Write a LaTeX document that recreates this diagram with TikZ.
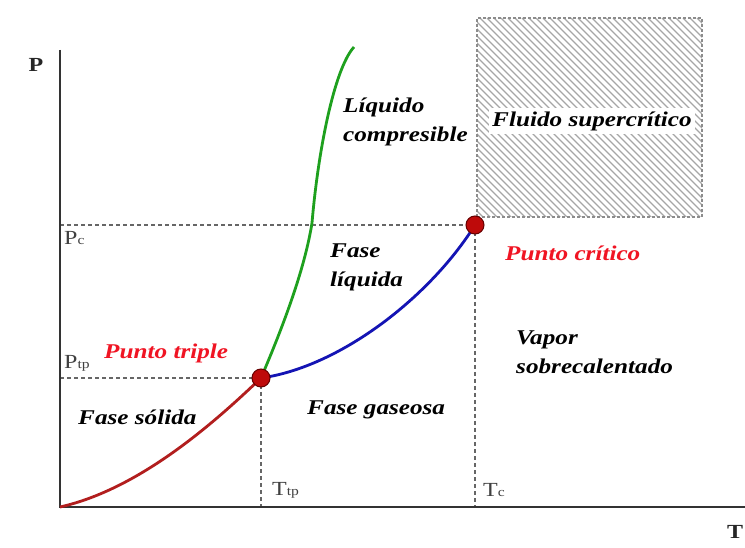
\documentclass[tikz,border=0pt]{standalone}
\usepackage{fontspec}
\setmainfont{Liberation Serif}[FakeStretch=1.2]
\definecolor{dotred}{RGB}{190,10,10}
\definecolor{solidred}{RGB}{178,30,30}
\definecolor{liqgreen}{RGB}{30,160,30}
\definecolor{vapblue}{RGB}{20,20,180}
\definecolor{ptred}{RGB}{240,20,35}
\newcommand{\sub}[1]{{\fontsize{13}{13}\selectfont #1}}
\begin{document}
\begin{tikzpicture}[
	x=1pt, y=1pt,
	axis/.style={ black!80, line width=2.6pt },
	guide/.style={ black!60, line width=1.3pt, dash pattern=on 4pt off 3pt },
	curve/.style={ line width=2.8pt },
	hatch/.style={ black!35, line width=1.2pt },
	dot/.style={ circle, draw=black!60!red, line width=1pt, fill=dotred, inner sep=0pt, minimum size=18pt },
	phase/.style={ font=\fontsize{21}{29}\selectfont\bfseries\itshape, inner sep=1pt, align=left },
	point/.style={ phase, text=ptred },
	tick/.style={ font=\fontsize{20}{20}\selectfont, text=black!75, inner sep=1pt }
]
\useasboundingbox[fill=white] (0,0) rectangle (745,547);

% axes
\coordinate (O) at (60,40);
\coordinate (ytop) at (60,497);
\coordinate (xend) at (745,40);
\coordinate (tp) at (261,169);
\coordinate (cp) at (475,322);

% supercritical region
\begin{scope}
\clip (477,330) rectangle (702,529);
\foreach \a in {270,277,...,708} {
	\draw[hatch] (\a,529) -- ++(205,-205);
}
\end{scope}
\draw[black!45, line width=1.2pt, dash pattern=on 3pt off 2pt] (477,330) rectangle (702,529);

\draw[guide] (O |- tp) to (tp);
\draw[guide] (O |- cp) to (cp);
\draw[guide] (tp) to (tp |- O);
\draw[guide] (cp) to (cp |- O);
\draw[axis] (ytop) to (O) to (xend);

% coexistence curves
\draw[curve, solidred] (O) .. controls (140,58) and (215,125) .. (tp);
\draw[curve, liqgreen] (tp) .. controls (285,225) and (305,280) .. (312,324)
	.. controls (318,395) and (334,478) .. (354,500);
\draw[curve, vapblue] (tp) .. controls (340,180) and (430,250) .. (cp);

\node[dot] (tpdot) at (tp) {};
\node[dot] (cpdot) at (cp) {};

% labels
\node[font=\fontsize{20}{20}\selectfont\bfseries, text=black!85] (plab) at (36,482) {P};
\node[font=\fontsize{20}{20}\selectfont\bfseries, text=black!85] (tlab) at (735,15) {T};
\node[tick, anchor=west] (pc) at (63,309) {P\sub{c}};
\node[tick, anchor=west] (ptp) at (63,184) {P\sub{tp}};
\node[tick, anchor=west] (ttp) at (271,57) {T\sub{tp}};
\node[tick, anchor=west] (tc) at (482,57) {T\sub{c}};

\node[phase, fill=white, inner sep=3pt] (fluid) at (592,426) {Fluido supercrítico};
\node[phase, anchor=west] (comp) at (342,425) {Líquido\\compresible};
\node[phase, anchor=west] (liq) at (329,280) {Fase\\líquida};
\node[phase, anchor=west] (vap) at (515,195) {Vapor\\sobrecalentado};
\node[phase, anchor=west] (sol) at (77,130) {Fase sólida};
\node[phase, anchor=west] (gas) at (306,137) {Fase gaseosa};
\node[point, anchor=west] (crit) at (504,294) {Punto crítico};
\node[point, anchor=west] (trip) at (103,194) {Punto triple};

\end{tikzpicture}
\end{document}
